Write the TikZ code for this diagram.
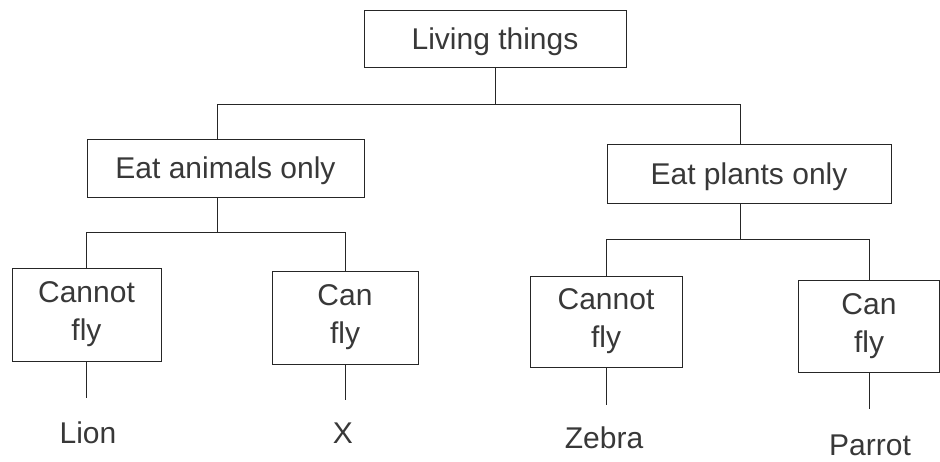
\documentclass[tikz,border=0pt]{standalone}
\usepackage{fontspec}
\setmainfont{Liberation Sans}
\begin{document}
\begin{tikzpicture}[x=1pt,y=-1pt,
  box/.style={draw=black!85, line width=0.9pt, text=black!78, inner sep=0pt, font=\fontsize{30}{38}\selectfont},
  onebox/.style={box, text depth=0pt},
  twobox/.style={box, align=center},
  leaf/.style={text=black!78, font=\fontsize{30}{38}\selectfont, anchor=base, inner sep=0pt},
  conn/.style={draw=black!85, line width=0.9pt}]
\useasboundingbox (0,0) rectangle (940,462);
% boxes
\node[onebox, minimum width=262pt, minimum height=57pt] (living) at (495,38.5) {Living things};
\node[onebox, minimum width=277pt, minimum height=58pt] (animals) at (225.5,168) {Eat animals only};
\node[onebox, minimum width=284pt, minimum height=59pt] (plants) at (749,173.5) {Eat plants only};
\node[twobox, minimum width=149pt, minimum height=93pt] (cf1) at (86.5,314.5) {Cannot\\fly};
\node[twobox, minimum width=146pt, minimum height=93pt] (can1) at (345,317.5) {Can\\fly};
\node[twobox, minimum width=152pt, minimum height=91pt] (cf2) at (606,321.5) {Cannot\\fly};
\node[twobox, minimum width=141pt, minimum height=92pt] (can2) at (869,326) {Can\\fly};
% leaves
\node[leaf] (lion) at (88,443) {Lion};
\node[leaf] (x) at (343,443) {X};
\node[leaf] (zebra) at (604,448) {Zebra};
\node[leaf] (parrot) at (870,455) {Parrot};
% connectors top
\coordinate (hM) at (495,104);
\coordinate (hL) at (217,104);
\coordinate (hR) at (740,104);
\draw[conn] (living.south) -- (hM);
\draw[conn] (hL |- animals.north) -- (hL) -- (hR) -- (hR |- plants.north);
% left subtree
\coordinate (aL) at (217,232);
\draw[conn] (aL |- animals.south) -- (aL);
\draw[conn] (cf1.north) -- (cf1.north |- aL) -- (can1.north |- aL) -- (can1.north);
% right subtree
\coordinate (pR) at (740,239);
\draw[conn] (pR |- plants.south) -- (pR);
\draw[conn] (cf2.north) -- (cf2.north |- pR) -- (can2.north |- pR) -- (can2.north);
% leaf stems
\coordinate (e1) at (86.5,398);
\coordinate (e2) at (345,400);
\coordinate (e3) at (606,405);
\coordinate (e4) at (869,409);
\draw[conn] (cf1.south) -- (e1);
\draw[conn] (can1.south) -- (e2);
\draw[conn] (cf2.south) -- (e3);
\draw[conn] (can2.south) -- (e4);
\end{tikzpicture}
\end{document}
